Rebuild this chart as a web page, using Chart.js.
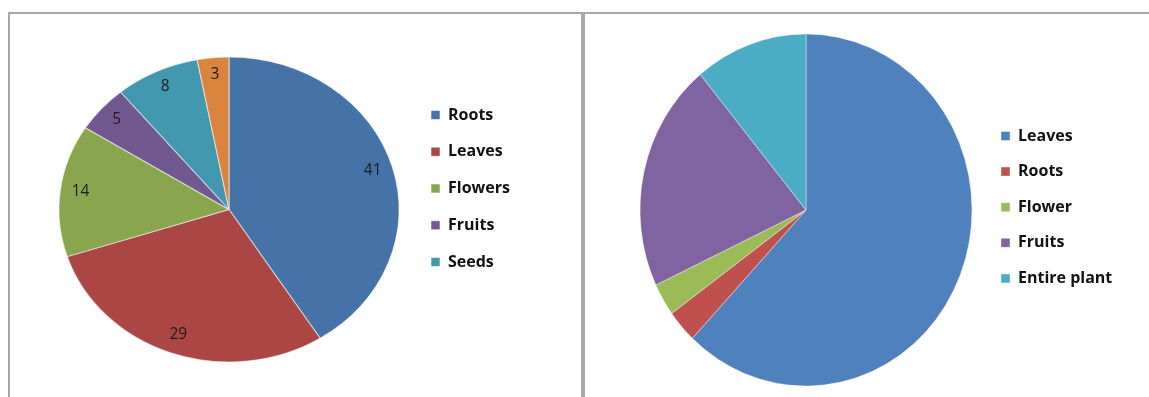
<!DOCTYPE html>
<html>
<head>
<meta charset="utf-8">
<script src="https://cdn.jsdelivr.net/npm/chart.js@4.4.1/dist/chart.umd.min.js"></script>
<style>
  html, body { margin: 0; padding: 0; background: #fff; overflow: hidden; }
  body { width: 1149px; height: 397px; position: relative; }
  .frame { position: absolute; top: 12px; height: 400px; border: 2px solid #a8a8a8; box-sizing: border-box; }
  #frameParts { left: 8px; width: 575px; }
  #frameUses { left: 583px; width: 600px; }
  canvas { position: absolute; }
  #partsChart { left: 10px; top: 15px; }
  #usesChart { left: 587px; top: 15px; }
</style>
</head>
<body>
<div class="frame" id="frameParts"></div>
<div class="frame" id="frameUses"></div>
<canvas id="partsChart" width="571" height="382"></canvas>
<canvas id="usesChart" width="562" height="382"></canvas>
<script>
/* ========= DATA ========= */
const partLabels = ["Roots", "Leaves", "Flowers", "Fruits", "Seeds", "Others"];
const partValues = [41, 29, 14, 5, 8, 3];
const partColors = ["#4572a7", "#aa4643", "#89a54e", "#71588f", "#4198af", "#db843d"];

const useLabels = ["Leaves", "Roots", "Flower", "Fruits", "Entire plant"];
const useValues = [62, 3, 3, 21, 11];
const useColors = ["#4f81bd", "#c0504d", "#9bbb59", "#8064a2", "#4bacc6"];

/* ========= OVAL PIE + VALUE LABELS ========= */
// squeezes/stretches the pie sideways around its centre, then writes values near the rim
const ovalPie = {
  id: "ovalPie",
  beforeDatasetsDraw(chart, args, opts) {
    const arc = chart.getDatasetMeta(0).data[0];
    const ctx = chart.ctx;
    ctx.save();
    ctx.translate(arc.x, arc.y);
    ctx.scale(opts.stretch, 1);
    ctx.translate(-arc.x, -arc.y);
  },
  afterDatasetsDraw(chart, args, opts) {
    const ctx = chart.ctx;
    ctx.restore();
    if (!opts.values) return;
    ctx.save();
    ctx.font = "15.5px 'Open Sans', sans-serif";
    ctx.fillStyle = "#1c1c1c";
    ctx.textAlign = "center";
    ctx.textBaseline = "middle";
    const values = chart.data.datasets[0].data;
    chart.getDatasetMeta(0).data.forEach((arc, i) => {
      const mid = (arc.startAngle + arc.endAngle) / 2;
      const r = arc.outerRadius * 0.88;
      ctx.fillText(values[i], arc.x + Math.cos(mid) * r * opts.stretch, arc.y + Math.sin(mid) * r - 1.5);
    });
    ctx.restore();
  }
};

// slide the legend box so its left edge sits where we want it
function placeLegend(chart, left) {
  chart.options.layout.padding.right += chart.legend.left - left;
  chart.update();
}

const legendFont = { family: "'Open Sans', sans-serif", size: 16, weight: "bold" };

/* ========= PLANT PARTS (left) ========= */
const partsChart = new Chart(document.getElementById("partsChart"), {
  type: "pie",
  data: {
    labels: partLabels,
    datasets: [{
      data: partValues,
      backgroundColor: partColors,
      borderColor: "rgba(255,255,255,.55)",
      borderWidth: 1,
      radius: 152.5,
      clip: false
    }]
  },
  options: {
    responsive: false,
    animation: false,
    events: [],
    layout: { padding: { left: 37.75, right: 20, top: 71.25, bottom: 64.25 } },
    plugins: {
      tooltip: { enabled: false },
      ovalPie: { stretch: 1.115, values: true },
      legend: {
        position: "right",
        align: "start",
        labels: {
          font: legendFont,
          color: "#111",
          boxWidth: 9,
          boxHeight: 9,
          padding: 20.75,
          filter: item => item.index < 5
        }
      }
    }
  },
  plugins: [ovalPie]
});
placeLegend(partsChart, 400.25);

/* ========= PARTS USED (right) ========= */
const usesChart = new Chart(document.getElementById("usesChart"), {
  type: "pie",
  data: {
    labels: useLabels,
    datasets: [{
      data: useValues,
      backgroundColor: useColors,
      borderColor: "rgba(255,255,255,.4)",
      borderWidth: 1,
      radius: 176,
      clip: false
    }]
  },
  options: {
    responsive: false,
    animation: false,
    events: [],
    layout: { padding: { left: 43.6, right: 20, top: 93.4, bottom: 85.4 } },
    plugins: {
      tooltip: { enabled: false },
      ovalPie: { stretch: 0.943, values: false },
      legend: {
        position: "right",
        align: "start",
        labels: {
          font: legendFont,
          color: "#111",
          boxWidth: 9,
          boxHeight: 9,
          padding: 19.6
        }
      }
    }
  },
  plugins: [ovalPie]
});
placeLegend(usesChart, 394.4);
</script>
</body>
</html>
